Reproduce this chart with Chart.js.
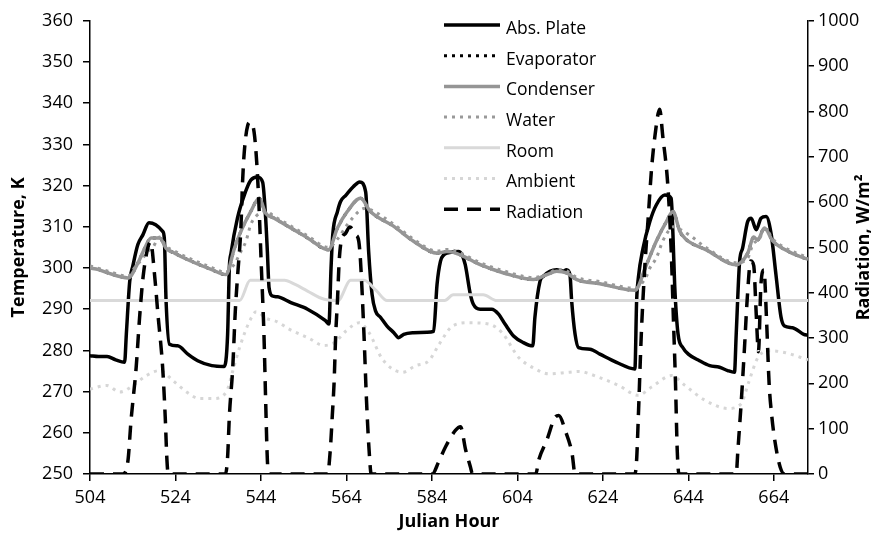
<!DOCTYPE html>
<html>
<head>
<meta charset="utf-8">
<script src="https://cdn.jsdelivr.net/npm/chart.js@4.4.1/dist/chart.umd.min.js"></script>
<style>
  body { margin: 0; background: #fff; }
  #wrap { width: 884px; height: 538px; }
</style>
</head>
<body>
<div id="wrap"><canvas id="myChart" width="884" height="538"></canvas></div>
<script>
// tick labels
const xTicks = [504, 524, 544, 564, 584, 604, 624, 644, 664];

// Abs. Plate (K)
const plateHours = [504, 506, 508, 510, 512.1, 512.5, 513.3, 514, 515.2, 516.4, 517.8, 521, 521.4, 521.8, 522.6, 524.5, 526.9, 529.2, 532.5,
  535.4, 536.2, 536.6, 537, 538.5, 540.1, 541.6, 543.2, 544.4, 545.1, 545.5, 545.9, 546.7, 547.9, 551, 554.9, 559.1, 559.9,
  560.4, 560.8, 561.9, 562.6, 563.9, 565.6, 567.1, 568.5, 569.2, 570, 570.8, 572, 573.5, 575.1, 576.2, 577.4, 579.7, 582.9, 584.4,
  585.2, 586, 586.8, 587.5, 590.2, 591, 591.8, 593, 593.7, 595.3, 598, 599.6, 601.1, 603.1, 605.4, 607.6,
  608.1, 609.3, 610.1, 611.6, 613.2, 614.8, 615.5, 616.3, 616.7, 617.5, 618.3, 621, 623.3, 627.2, 631.5,
  631.9, 632.3, 633.4, 635, 636.5, 638.5, 640, 640.4, 640.8, 641.6, 642.7, 644, 646.6, 649, 651.3, 653.2, 654.8,
  655.2, 656, 656.7, 657.9, 658.7, 659.9, 661, 662.2, 663.4, 664.5, 665.7, 666.5, 668.4, 671, 672];
const plateTemp = [278.7, 278.5, 278.5, 277.7, 277.1, 283.9, 296.8, 300.4, 305.7, 308.1, 311, 308.9, 307, 292, 281.5, 281.1, 279.1, 277.5, 276.3,
  276.1, 283.9, 300, 303.6, 312.1, 317.7, 321.3, 322.1, 320.8, 312.1, 304, 295.2, 293.2, 293, 291.6, 290, 287.2, 286.4,
  300, 308.1, 313.7, 316.1, 317.7, 319.7, 320.9, 318.5, 304, 293.6, 289.6, 288, 285.9, 284.3, 283.1, 283.9, 284.3, 284.4, 284.6,
  296, 301.6, 303.2, 303.6, 304, 303.3, 300.8, 293.6, 291.2, 290, 290, 288.8, 286.4, 283.5, 281.9, 281.1,
  288, 296.8, 298, 299.2, 299.6, 299.2, 299.6, 298.4, 292, 283.9, 280.7, 280.3, 279.1, 277.1, 275.5,
  292, 297.6, 304.8, 311.3, 315.3, 317.7, 316.9, 308.1, 296, 283.9, 280.7, 279.1, 277.5, 276.3, 275.9, 275.1, 274.7,
  283.9, 301.6, 304.8, 311.3, 312.1, 309.3, 312.1, 312.5, 308.1, 298.4, 288, 285.9, 285.5, 283.9, 283.7];

// Condenser (K), Evaporator lies under it
const condHours = [504, 506, 508.2, 512.9, 515.2, 516.8, 518.3, 520.3, 521.8, 523.8, 526.9, 532.5, 535.8, 537.8, 539.3, 541.6, 543.6, 545.1,
  547.1, 551, 554.9, 559.8, 561.9, 564.2, 567.3, 569.6, 575.1, 579.7, 585.2, 587.5, 589, 591.4, 595.3, 600.8, 607.8, 610.9, 613.2,
  615.5, 617.9, 623.3, 631.5, 634.2, 636.5, 638.9, 640.4, 642, 643.5, 648.2, 655.2, 657.9, 659.3, 660.2, 661.8, 663.8, 666, 671.1, 672];
const condTemp = [300, 299.6, 298.8, 297.6, 301.2, 304.8, 307.3, 307.3, 304.8, 303.6, 302, 299.6, 298.4, 304.8, 308.9, 313.7, 316.9, 313.3,
  312.1, 309.7, 307.3, 304.4, 309.7, 313.7, 316.9, 313.7, 310.1, 306.5, 303.6, 304, 303.8, 302.8, 300.8, 298.8, 297.2, 298.4, 299.2,
  298.8, 297.2, 296.2, 294.6, 300.8, 306.5, 311.3, 313.7, 308.9, 306.9, 304.4, 300.8, 303.6, 307.5, 306.8, 309.7, 306.5, 304.8, 302.4, 302.2];
const evapTemp = [300, 299.6, 298.8, 297.6, 301.2, 304.8, 307.3, 307.3, 304.8, 303.6, 302, 299.6, 298.4, 304.8, 308.9, 313.7, 316.9, 313.3,
  312.1, 309.7, 307.3, 304.4, 309.7, 313.7, 316.9, 313.7, 310.1, 306.5, 303.6, 304, 303.8, 302.8, 300.8, 298.8, 297.2, 298.4, 299.2,
  298.8, 297.2, 296.2, 294.6, 300.8, 306.5, 311.3, 313.7, 308.9, 306.9, 304.4, 300.8, 303.6, 307.5, 306.8, 309.7, 306.5, 304.8, 302.4, 302.2];

// Water (K)
const waterHours = [504, 508, 512.9, 514.4, 516.4, 517.5, 518.7, 520.3, 521.8, 523.8, 526.9, 532.5, 535.8, 536.5, 537.8, 539.3, 540.5, 541.6,
  542.8, 544.4, 545.1, 547, 551, 554.9, 559.9, 561.9, 564.2, 567.3, 568.6, 569.6, 575.1, 579.7, 585.2, 587.5, 589, 591.4, 595.3, 600.8,
  607.8, 610.9, 613.2, 615.5, 617.9, 623.3, 631.5, 634.2, 635, 636.5, 638, 639.6, 640.5, 642, 644.5, 648.2, 655.2, 657.9, 659.1,
  660.5, 662, 663.8, 666, 671.1, 672];
const waterTemp = [300.5, 299.3, 298, 300, 302.4, 304, 305, 307.5, 305.3, 304.1, 302.5, 300.1, 298.9, 299.5, 301, 304, 306.5, 310.5,
  312.5, 313.6, 313.8, 312.6, 310.2, 307.8, 305, 307, 310.5, 314.1, 314.5, 314.2, 310.6, 307, 304.1, 304.5, 304.3, 303.3, 301.3, 299.3,
  297.7, 298.4, 299.6, 299.3, 297.7, 296.7, 295.1, 298, 300, 302.4, 306.5, 309.3, 310, 309.4, 307.8, 304.9, 301.3, 302.4, 305.7,
  306.9, 309.5, 307, 305.3, 302.9, 302.7];

// Room (K)
const roomHours = [504, 539, 541.5, 549.5, 552, 554.9, 558.8, 562, 565, 568.1, 571, 573.5, 587, 589, 596, 599.2, 672];
const roomTemp = [292.1, 292.1, 297, 297, 296, 294.4, 292.4, 292.1, 297, 297, 294.5, 292.1, 292.1, 293.5, 293.5, 292.1, 292.1];

// Ambient (K)
const ambHours = [504, 507.9, 511, 514.1, 517.2, 520.3, 523.4, 526.6, 529.7, 532.8, 535.9, 537.4, 539, 541.3, 542.9, 545.2, 547.7, 550.7,
  555.3, 558.7, 561.2, 563.9, 567, 569.3, 572.4, 577.1, 580.2, 583.3, 585.7, 588.8, 592.7, 597.3, 600.4, 604.3, 608.2, 611.3, 616,
  618.3, 623, 627.7, 632.3, 635.4, 640.1, 643.2, 647.9, 653.3, 656.4, 658, 660.3, 663, 666.5, 672];
const ambTemp = [270.6, 271.5, 269.9, 271.5, 273.9, 275.1, 272.7, 269.9, 268.3, 268.3, 269.9, 275, 280.7, 287, 289.4, 287.8, 287, 285.1,
  282.9, 281.2, 281.9, 284.7, 286.7, 284.3, 277.9, 274.7, 276.3, 277.5, 281.5, 285.9, 286.7, 286.4, 284.3, 278.3, 275.5, 274.3, 274.7,
  274.9, 273.5, 271.5, 269.1, 271.1, 273.9, 271.5, 267.9, 265.9, 267.1, 271.9, 278.3, 279.9, 279.5, 277.7];

// Radiation (W/m2)
const radHours = [504, 511.7, 512.9, 513.6, 514.8, 515.6, 516.4, 517.5, 518.2, 519.1, 519.9, 521, 521.6, 522, 522.3,
  535.7, 536.2, 536.6, 537.4, 538, 538.5, 539.3, 539.7, 540.1, 540.9, 541.5, 542.4, 543, 543.6, 544.1, 544.7, 545.1, 545.5, 545.8,
  559.6, 560.2, 560.7, 561.1, 561.5, 561.9, 562.3, 562.8, 563.8, 564.8, 566.2, 566.9, 567.3, 568.1, 568.7, 569.3, 569.8,
  584.1, 585.5, 587.2, 589.5, 590.7, 591.9, 593, 593.5,
  608.3, 609, 610.9, 612.9, 613.7, 615.2, 616.8, 617.5,
  631.5, 631.9, 632.3, 633, 633.8, 634.6, 635.4, 636.2, 637.3, 638, 639.2, 640, 640.5, 641, 641.4, 641.8,
  655.2, 655.6, 656.4, 657.1, 657.8, 658.6, 659.3, 659.9, 660.4, 661, 661.7, 662.3, 662.9, 663.5, 664.3, 665.5, 666.5, 672];
const radValues = [0, 0, 31, 118, 235, 345, 433, 498, 512, 440, 352, 235, 126, 31, 0,
  0, 38, 126, 235, 360, 433, 542, 645, 711, 769, 776, 754, 689, 579, 455, 309, 162, 31, 0,
  0, 50, 130, 199, 309, 382, 469, 515, 531, 545, 528, 513, 469, 309, 162, 53, 0,
  0, 25, 60, 96, 104, 53, 16, 0,
  0, 31, 75, 126, 129, 96, 45, 0,
  0, 31, 126, 309, 455, 564, 674, 747, 805, 747, 637, 491, 345, 199, 53, 0,
  0, 53, 162, 272, 390, 470, 460, 350, 270, 420, 450, 340, 200, 130, 70, 15, 0, 0];

const rightTitle = 'Radiation, W/m²';

function pts(hours, vals) {
  return hours.map((h, i) => ({ x: h, y: vals[i] }));
}

// legend box inside the plot + right axis title reading upward
const boxLegend = {
  id: 'boxLegend',
  afterDatasetsDraw(chart) {
    const ctx = chart.ctx;
    chart.data.datasets.forEach((ds, i) => {
      const y = 25 + i * 30.7;
      ctx.save();
      ctx.strokeStyle = ds.borderColor;
      ctx.lineWidth = ds.borderWidth;
      ctx.setLineDash(ds.borderDash || []);
      ctx.beginPath();
      ctx.moveTo(444, y);
      ctx.lineTo(500, y);
      ctx.stroke();
      ctx.setLineDash([]);
      ctx.fillStyle = '#000';
      ctx.font = '17.5px "Open Sans"';
      ctx.textBaseline = 'middle';
      ctx.fillText(ds.label, 506, y + 4);
      ctx.restore();
    });

    const area = chart.chartArea;
    ctx.save();
    ctx.translate(864, (area.top + area.bottom) / 2);
    ctx.rotate(-Math.PI / 2);
    ctx.font = 'bold 18px "Open Sans"';
    ctx.fillStyle = '#000';
    ctx.textAlign = 'center';
    ctx.textBaseline = 'middle';
    ctx.fillText(rightTitle, 0, 0);
    ctx.restore();
  }
};

const tickFont = { family: 'Open Sans', size: 18 };
const titleFont = { family: 'Open Sans', size: 18, weight: 'bold' };

const ctx = document.getElementById('myChart').getContext('2d');
const myChart = new Chart(ctx, {
  type: 'line',
  data: {
    datasets: [
      { label: 'Abs. Plate', data: pts(plateHours, plateTemp), borderColor: '#000', borderWidth: 3.5, yAxisID: 'y', order: 7 },
      { label: 'Evaporator', data: pts(condHours, evapTemp), borderColor: '#000', borderWidth: 3, borderDash: [3, 5], yAxisID: 'y', order: 6 },
      { label: 'Condenser', data: pts(condHours, condTemp), borderColor: '#959595', borderWidth: 3.5, yAxisID: 'y', order: 5 },
      { label: 'Water', data: pts(waterHours, waterTemp), borderColor: '#999', borderWidth: 3, borderDash: [3, 5], yAxisID: 'y', order: 4 },
      { label: 'Room', data: pts(roomHours, roomTemp), borderColor: '#d9d9d9', borderWidth: 3, yAxisID: 'y', order: 3 },
      { label: 'Ambient', data: pts(ambHours, ambTemp), borderColor: '#d6d6d6', borderWidth: 3, borderDash: [3, 5], yAxisID: 'y', order: 2 },
      { label: 'Radiation', data: pts(radHours, radValues), borderColor: '#000', borderWidth: 3.5, borderDash: [14, 9], yAxisID: 'y2', order: 1 }
    ]
  },
  options: {
    responsive: false,
    animation: false,
    layout: { padding: { top: 18, left: 0, right: 0, bottom: 0 } },
    elements: {
      point: { radius: 0 },
      line: { cubicInterpolationMode: 'monotone', fill: false }
    },
    plugins: {
      legend: { display: false },
      tooltip: { enabled: false }
    },
    scales: {
      x: {
        type: 'linear',
        min: 504,
        max: 672,
        afterBuildTicks: s => { s.ticks = xTicks.map(v => ({ value: v })); },
        afterFit: s => { s.height = 64; },
        ticks: { font: tickFont, color: '#000', padding: 6, maxRotation: 0, autoSkip: false, callback: v => String(v) },
        grid: { drawOnChartArea: false, tickLength: 7, color: '#000', lineWidth: 1.5 },
        border: { color: '#000', width: 1.5 },
        title: { display: true, text: 'Julian Hour', font: titleFont, color: '#000', padding: { top: 0, bottom: 5 } }
      },
      y: {
        position: 'left',
        min: 250,
        max: 360,
        afterFit: s => { s.width = 90; },
        ticks: { stepSize: 10, font: tickFont, color: '#000', padding: 10, callback: v => String(v) },
        grid: { drawOnChartArea: false, tickLength: 7, color: '#000', lineWidth: 1.5 },
        border: { color: '#000', width: 1.5 },
        title: { display: true, text: 'Temperature, K', font: titleFont, color: '#000', padding: { top: 8, bottom: 0 } }
      },
      y2: {
        position: 'right',
        min: 0,
        max: 1000,
        afterFit: s => { s.width = 76; },
        ticks: { stepSize: 100, font: tickFont, color: '#000', padding: 4, callback: v => String(v) },
        grid: { drawOnChartArea: false, tickLength: 6, color: '#000', lineWidth: 1.5 },
        border: { color: '#000', width: 1.5 },
        title: { display: false }
      }
    }
  },
  plugins: [boxLegend]
});
</script>
</body>
</html>
